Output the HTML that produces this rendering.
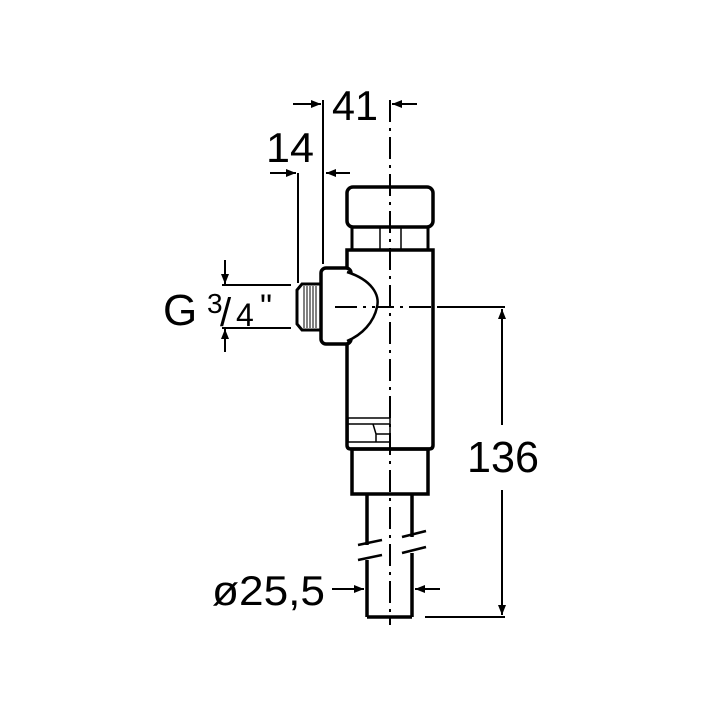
<!DOCTYPE html>
<html><head><style>body{margin:0;background:#fff}svg{display:block}</style></head><body>
<svg width="712" height="712" viewBox="0 0 712 712" xmlns="http://www.w3.org/2000/svg" font-family="Liberation Sans, sans-serif">
<defs><marker id="a" markerWidth="10" markerHeight="8" refX="10" refY="4" orient="auto" markerUnits="userSpaceOnUse"><path d="M0,0 L10,4 L0,8 z" fill="#000"/></marker></defs>
<g stroke="#000" fill="none">
<line x1="390" y1="100" x2="390" y2="625" stroke-width="2" stroke-dasharray="22,6,3,6"/>
<line x1="335" y1="307" x2="500" y2="307" stroke-width="2" stroke-dasharray="22,6,3,6"/>
<rect x="347" y="187" width="86" height="40" rx="6" stroke-width="3.5"/>
<rect x="352" y="227" width="76" height="23" stroke-width="3"/>
<line x1="380" y1="227" x2="380" y2="250" stroke-width="1.5"/>
<line x1="401" y1="227" x2="401" y2="250" stroke-width="1.5"/>
<path d="M347 250 V445 Q347 449 351 449 H429 Q433 449 433 445 V250 Z" stroke-width="3.5"/>
<rect x="352" y="449" width="76" height="45" stroke-width="3.5"/>
<line x1="367" y1="494" x2="367" y2="545" stroke-width="3.5"/>
<line x1="412" y1="494" x2="412" y2="537" stroke-width="3.5"/>
<line x1="367" y1="560" x2="367" y2="617" stroke-width="3.5"/>
<line x1="412" y1="553" x2="412" y2="617" stroke-width="3.5"/>
<line x1="367" y1="617" x2="412" y2="617" stroke-width="3.5"/>
<line x1="358" y1="545" x2="382" y2="540" stroke-width="2.5"/>
<line x1="358" y1="560" x2="382" y2="555" stroke-width="2.5"/>
<line x1="402" y1="537" x2="426" y2="531" stroke-width="2.5"/>
<line x1="402" y1="553" x2="426" y2="547" stroke-width="2.5"/>
<rect x="348" y="418" width="42" height="24" stroke-width="1.5"/>
<line x1="348" y1="424" x2="390" y2="424" stroke-width="1.5"/>
<path d="M373 424 L376 434 H390 M376 434 V442" stroke-width="1.5"/>
<rect x="321" y="268" width="30" height="76" rx="5" stroke-width="3.5" fill="#fff"/>
<path d="M347 272 C372 280 380 295 377 307 C374 322 362 335 347 341" stroke-width="2.5" fill="#fff"/>
<path d="M321 284 H302 L297 290 V324 L302 330 H321" stroke-width="3"/>
<g stroke-width="1"><line x1="304" y1="286" x2="304" y2="328"/><line x1="307" y1="286" x2="307" y2="328"/><line x1="310" y1="286" x2="310" y2="328"/><line x1="313" y1="286" x2="313" y2="328"/><line x1="316" y1="286" x2="316" y2="328"/></g>
<line x1="335" y1="307" x2="375" y2="307" stroke-width="2" stroke-dasharray="22,6,3,6"/>
<g stroke-width="2">
<line x1="323" y1="100" x2="323" y2="264"/>
<line x1="293" y1="104" x2="321" y2="104" marker-end="url(#a)"/>
<line x1="417" y1="104" x2="392" y2="104" marker-end="url(#a)"/>
<line x1="298" y1="173" x2="298" y2="283"/>
<line x1="270" y1="173" x2="296" y2="173" marker-end="url(#a)"/>
<line x1="350" y1="173" x2="326" y2="173" marker-end="url(#a)"/>
<line x1="222" y1="285" x2="291" y2="285"/>
<line x1="222" y1="328" x2="291" y2="328"/>
<line x1="225" y1="260" x2="225" y2="284" marker-end="url(#a)"/>
<line x1="225" y1="352" x2="225" y2="329" marker-end="url(#a)"/>
<line x1="440" y1="307" x2="505" y2="307"/>
<line x1="425" y1="617" x2="505" y2="617"/>
<line x1="502" y1="490" x2="502" y2="615" marker-end="url(#a)"/>
<line x1="502" y1="425" x2="502" y2="309" marker-end="url(#a)"/>
<line x1="332" y1="589" x2="364" y2="589" marker-end="url(#a)"/>
<line x1="440" y1="589" x2="415" y2="589" marker-end="url(#a)"/>
</g>
</g>
<g fill="#000">
<text x="332" y="120" font-size="42" textLength="46" lengthAdjust="spacingAndGlyphs">41</text>
<text x="266" y="162" font-size="42" textLength="48" lengthAdjust="spacingAndGlyphs">14</text>
<text x="163" y="325" font-size="44">G</text>
<text x="207" y="313" font-size="28">3</text>
<text x="220" y="326" font-size="40">/</text>
<text x="236" y="326" font-size="32">4</text>
<text x="260" y="318" font-size="34">"</text>
<text x="467" y="472" font-size="44" textLength="72" lengthAdjust="spacingAndGlyphs">136</text>
<text x="212" y="605" font-size="42" textLength="113" lengthAdjust="spacingAndGlyphs">ø25,5</text>
</g>
</svg>
</body></html>
